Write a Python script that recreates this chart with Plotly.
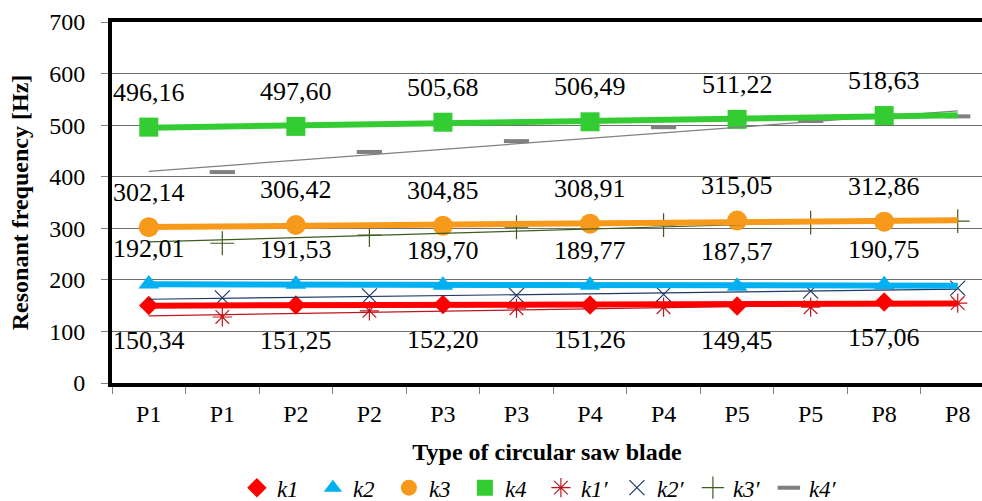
import numpy as np
import plotly.graph_objects as go

categories = ["P1", "P1", "P2", "P2", "P3", "P3", "P4", "P4", "P5", "P5", "P8", "P8"]

k1 = [150.34, 151.25, 152.20, 151.26, 149.45, 157.06]
k2 = [192.01, 191.53, 189.70, 189.77, 187.57, 190.75]
k3 = [302.14, 306.42, 304.85, 308.91, 315.05, 312.86]
k4 = [496.16, 497.60, 505.68, 506.49, 511.22, 518.63]

k1p = [128, 140, 145, 147, 147, 155]
k2p = [165, 169, 170, 172, 178, 184]
k3p = [271, 287, 302, 306, 311, 314]
k4p = [409, 448, 469, 496, 508, 517]

yticks = [0, 100, 200, 300, 400, 500, 600, 700]

FONT = "Liberation Serif, Times New Roman, Tinos, serif"
xpos = list(range(len(categories)))
x_main = xpos[0::2]
x_prime = xpos[1::2]

main_series = [
    ("k1", k1, "#FF0000", "diamond", 15),
    ("k2", k2, "#00B0F0", "triangle-up", 18),
    ("k3", k3, "#F79A1B", "circle", 20),
    ("k4", k4, "#33CC33", "square", 19),
]
prime_series = [
    ("k1′", k1p, "#C0161C", "asterisk-open", 16),
    ("k2′", k2p, "#1F3864", "x-thin-open", 15),
    ("k3′", k3p, "#3D5C1E", "cross-thin-open", 17),
    ("k4′", k4p, "#808080", "line-ew-open", 18),
]

fig = go.Figure()

for name, vals, col, sym, sz in main_series:
    fig.add_trace(go.Scatter(
        x=x_main, y=vals, mode="markers", name=name,
        marker=dict(symbol=sym, size=sz, color=col, line=dict(width=0)),
    ))
for name, vals, col, sym, sz in prime_series:
    lw = 4 if sym.startswith("line") else 1.2
    fig.add_trace(go.Scatter(
        x=x_prime, y=vals, mode="markers", name=name,
        marker=dict(symbol=sym, size=sz, color=col, line=dict(width=lw, color=col)),
    ))

xfit = np.array([xpos[0], xpos[-1]], dtype=float)
for name, vals, col, sym, sz in prime_series:
    c = np.polyfit(x_prime, vals, 1)
    fig.add_trace(go.Scatter(x=xfit, y=np.polyval(c, xfit), mode="lines",
                             line=dict(color=col, width=1.2), showlegend=False,
                             hoverinfo="skip"))
for name, vals, col, sym, sz in main_series:
    c = np.polyfit(x_main, vals, 1)
    fig.add_trace(go.Scatter(x=xfit, y=np.polyval(c, xfit), mode="lines",
                             line=dict(color=col, width=6), showlegend=False,
                             hoverinfo="skip"))

annotations = []
for name, vals, col, sym, sz in main_series:
    shift = -35 if name == "k1" else 35
    for xv, v in zip(x_main, vals):
        annotations.append(dict(
            x=xv, y=v, xref="x", yref="y", text=f"{v:.2f}".replace(".", ","),
            showarrow=False, yshift=shift,
            font=dict(family=FONT, size=26, color="black"),
        ))

fig.update_layout(
    width=982, height=501,
    margin=dict(l=112, r=0, t=22, b=118, autoexpand=False),
    paper_bgcolor="white", plot_bgcolor="white",
    font=dict(family=FONT, size=24, color="black"),
    annotations=annotations,
    showlegend=True,
    legend=dict(orientation="h", x=0.493, xanchor="center", y=-0.29, yanchor="middle",
                font=dict(family=FONT, size=23, style="italic"),
                itemwidth=30, entrywidth=31, tracegroupgap=0),
    xaxis=dict(
        range=[-0.5, 11.33], tickmode="array", tickvals=xpos, ticktext=categories,
        ticks="", showgrid=False, zeroline=False, automargin=False,
        showline=True, linecolor="black", linewidth=4, mirror=True,
        tickfont=dict(family=FONT, size=24),
        ticklabelstandoff=6,
        minor=dict(tickvals=[v - 0.5 for v in xpos] + [xpos[-1] + 0.5], ticks="outside",
                   ticklen=7, tickcolor="#808080", tickwidth=1, showgrid=False),
        title=dict(text="<b>Type of circular saw blade</b>", font=dict(family=FONT, size=24),
                   standoff=18),
    ),
    yaxis=dict(
        range=[0, 700], tickmode="array", tickvals=yticks, automargin=False,
        ticks="outside", ticklen=7, tickcolor="#808080", tickwidth=1,
        showgrid=True, gridcolor="#6e6e6e", gridwidth=1, zeroline=False,
        showline=True, linecolor="black", linewidth=4,
        tickfont=dict(family=FONT, size=24),
        ticklabelstandoff=11,
        title=dict(text="<b>Resonant frequency [Hz]</b>", font=dict(family=FONT, size=24),
                   standoff=15),
    ),
)

fig.write_html("out.html")
